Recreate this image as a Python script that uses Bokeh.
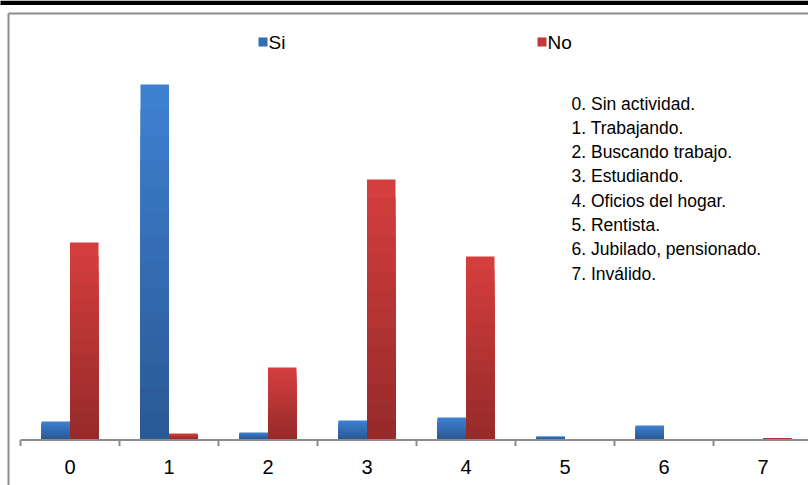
from bokeh.plotting import figure
from bokeh.models import Range1d, ColumnDataSource
from bokeh.core.properties import value
from bokeh.embed import file_html
from bokeh.resources import INLINE

# ---- data ----
categories = ["0", "1", "2", "3", "4", "5", "6", "7"]
si_values = [17.5, 354.5, 6.5, 18.5, 21.5, 2.5, 13.5, 0.0]
no_values = [196.5, 5.5, 71.5, 259.5, 182.5, 0.0, 0.0, 0.4]
series_names = ["Si", "No"]
descriptions = [
    "0. Sin actividad.",
    "1. Trabajando.",
    "2. Buscando trabajo.",
    "3. Estudiando.",
    "4. Oficios del hogar.",
    "5. Rentista.",
    "6. Jubilado, pensionado.",
    "7. Inválido.",
]

FONT = "Liberation Sans"
GREY = "#8c8c8c"
si_top, si_bot = (62, 128, 208), (42, 90, 150)
no_top, no_bot = (212, 62, 62), (152, 42, 42)

p = figure(width=808, height=485, output_backend="svg", toolbar_location=None,
           x_range=Range1d(-20 / 99, 788 / 99), y_range=Range1d(-46.5, 438.5),
           min_border=0, min_border_left=0, min_border_right=0,
           min_border_top=0, min_border_bottom=0)
p.axis.visible = False
p.grid.visible = False
p.outline_line_color = None
p.background_fill_color = "white"
p.border_fill_color = "white"

n = len(categories)
idx = list(range(n))
bar_w = 0.288
si_x = [i + 0.5 - bar_w / 2 for i in idx]
no_x = [i + 0.5 + bar_w / 2 for i in idx]


def mix(c0, c1, t):
    return "#%02x%02x%02x" % tuple(int(round(a + (b - a) * t)) for a, b in zip(c0, c1))


# gradient bars: nested bars, each covering the lower part of the previous
N = 14
for xs, vals, ctop, cbot in [(si_x, si_values, si_top, si_bot), (no_x, no_values, no_top, no_bot)]:
    for k in range(N):
        frac = (N - k) / N
        col = mix(ctop, cbot, k / (N - 1))
        p.vbar(x=xs, top=[v * frac for v in vals], bottom=0, width=bar_w,
               fill_color=col, line_color=None)

# black band at the very top
p.segment(x0=[-1], y0=[436.25], x1=[9], y1=[436.25], line_color="black", line_width=4.5)

# frame border (left and top)
p.segment(x0=[-12 / 99, -12 / 99], y0=[-60, 425.5], x1=[-12 / 99, 9], y1=[425.5, 425.5],
          line_color=GREY, line_width=2)

# category axis
p.segment(x0=[0], y0=[-1], x1=[9], y1=[-1], line_color=GREY, line_width=2)
p.segment(x0=list(range(n + 1)), y0=[-1] * (n + 1), x1=list(range(n + 1)), y1=[-7] * (n + 1),
          line_color=GREY, line_width=2)
p.text(x=[i + 0.5 for i in idx], y=[-27.5] * n, text=categories,
       text_font=value(FONT), text_font_size="20px", text_color="#000000",
       text_align="center", text_baseline="middle")

# legend
leg_x = [(262.5 - 20) / 99, (541.5 - 20) / 99]
p.scatter(x=leg_x, y=[397, 397], marker="square", size=9,
          fill_color=[mix(si_top, si_bot, 0.5), mix(no_top, no_bot, 0.3)], line_color=None)
p.text(x=[x + 5.5 / 99 for x in leg_x], y=[397, 397], text=series_names,
       text_font=value(FONT), text_font_size="19px", text_color="#000000",
       text_align="left", text_baseline="middle")

# description block
desc_src = ColumnDataSource(dict(
    x=[(571 - 20) / 99] * len(descriptions),
    y=[335.5 - 24.3 * i for i in range(len(descriptions))],
    text=descriptions))
p.text(x="x", y="y", text="text", source=desc_src,
       text_font=value(FONT), text_font_size="17.5px", text_color="#000000",
       text_align="left", text_baseline="middle")

open("out.html", "w").write(file_html(p, INLINE))
